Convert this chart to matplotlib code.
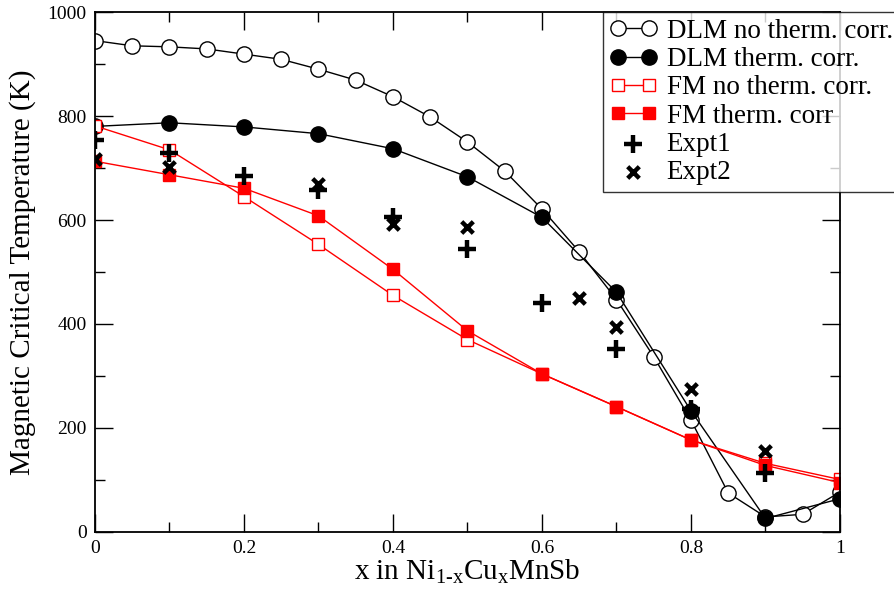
"""
Magnetic critical temperature of Ni(1-x)Cu(x)MnSb: DLM / FM calculations
with and without thermal correction, compared to two experimental sets.

Outputs: out.png
"""

import matplotlib

matplotlib.use("Agg")
import matplotlib.pyplot as plt
from matplotlib.ticker import MultipleLocator

# --- Data -----------------------------------------------------------------
x_dlm_no = [0.0, 0.05, 0.1, 0.15, 0.2, 0.25, 0.3, 0.35, 0.4, 0.45, 0.5,
            0.55, 0.6, 0.65, 0.7, 0.75, 0.8, 0.85, 0.9, 0.95, 1.0]
tc_dlm_no = [945, 935, 933, 929, 919, 909, 890, 869, 837, 798, 750,
             694, 621, 539, 447, 337, 215, 75, 29, 34, 77]

x_calc = [0.0, 0.1, 0.2, 0.3, 0.4, 0.5, 0.6, 0.7, 0.8, 0.9, 1.0]
tc_dlm_th = [780, 787, 779, 766, 737, 683, 605, 461, 233, 26, 64]
tc_fm_no = [781, 735, 645, 553, 455, 370, 304, 241, 177, 132, 101]
tc_fm_th = [713, 687, 661, 608, 505, 387, 304, 241, 177, 128, 95]

x_expt1 = [0.0, 0.1, 0.2, 0.3, 0.4, 0.5, 0.6, 0.7, 0.8, 0.9]
tc_expt1 = [754, 728, 685, 658, 605, 545, 440, 352, 236, 113]

x_expt2 = [0.0, 0.1, 0.3, 0.4, 0.5, 0.65, 0.7, 0.8, 0.9]
tc_expt2 = [717, 702, 670, 592, 586, 450, 394, 275, 155]

x_ticks = [0, 0.2, 0.4, 0.6, 0.8, 1]
x_tick_labels = ["0", "0.2", "0.4", "0.6", "0.8", "1"]
y_ticks = [0, 200, 400, 600, 800, 1000]


def main() -> None:
    plt.rcParams["font.family"] = ["Liberation Serif", "DejaVu Serif"]
    plt.rcParams["mathtext.fontset"] = "custom"
    plt.rcParams["mathtext.rm"] = "Liberation Serif"
    plt.rcParams["mathtext.default"] = "regular"

    fig = plt.figure(figsize=(8.95, 6.04), dpi=100)
    ax = fig.add_axes([95 / 895, 72 / 604, 745 / 895, 520 / 604])

    ax.plot(x_dlm_no, tc_dlm_no, "-o", color="black", lw=1.0, ms=11,
            mfc="white", mec="black", mew=1.0, label="DLM no therm. corr.")
    ax.plot(x_calc, tc_dlm_th, "-o", color="black", lw=1.0, ms=11,
            mfc="black", mec="black", label="DLM therm. corr.")
    ax.plot(x_calc, tc_fm_no, "-s", color="red", lw=1.0, ms=9,
            mfc="white", mec="red", mew=1.0, label="FM no therm. corr.")
    ax.plot(x_calc, tc_fm_th, "-s", color="red", lw=1.0, ms=9,
            mfc="red", mec="red", label="FM therm. corr")
    ax.scatter(x_expt1, tc_expt1, marker="+", s=160, color="black",
               linewidths=3.2, label="Expt1", zorder=4)
    ax.scatter(x_expt2, tc_expt2, marker="x", s=70, color="black",
               linewidths=3.2, label="Expt2", zorder=4)

    ax.set_xlim(0, 1)
    ax.set_ylim(0, 1000)
    ax.set_xticks(x_ticks)
    ax.set_xticklabels(x_tick_labels)
    ax.set_yticks(y_ticks)
    ax.xaxis.set_minor_locator(MultipleLocator(0.1))
    ax.yaxis.set_minor_locator(MultipleLocator(100))
    ax.tick_params(which="both", direction="in", top=True, right=True,
                   width=1.0, labelsize=14, pad=6)
    ax.tick_params(which="major", length=13)
    ax.tick_params(which="minor", length=7)
    for sp in ax.spines.values():
        sp.set_linewidth(1.3)

    ax.set_xlabel(r"x in Ni$_{1\text{-}x}$Cu$_x$MnSb", fontsize=21, labelpad=0)
    ax.set_ylabel("Magnetic Critical Temperature (K)", fontsize=21, labelpad=8)

    # legend box runs off the right edge, as in the original
    leg = fig.legend(loc="upper left", bbox_to_anchor=(603 / 895, 1 - 12 / 604),
                     fontsize=19.5, numpoints=2, scatterpoints=1,
                     frameon=True, fancybox=False, borderpad=0.25,
                     labelspacing=0.12, handlelength=1.75, handletextpad=0.35,
                     borderaxespad=0)
    leg.get_frame().set_edgecolor("black")
    leg.get_frame().set_linewidth(1.0)

    fig.savefig("out.png", dpi=100)
    plt.close(fig)


if __name__ == "__main__":
    main()
